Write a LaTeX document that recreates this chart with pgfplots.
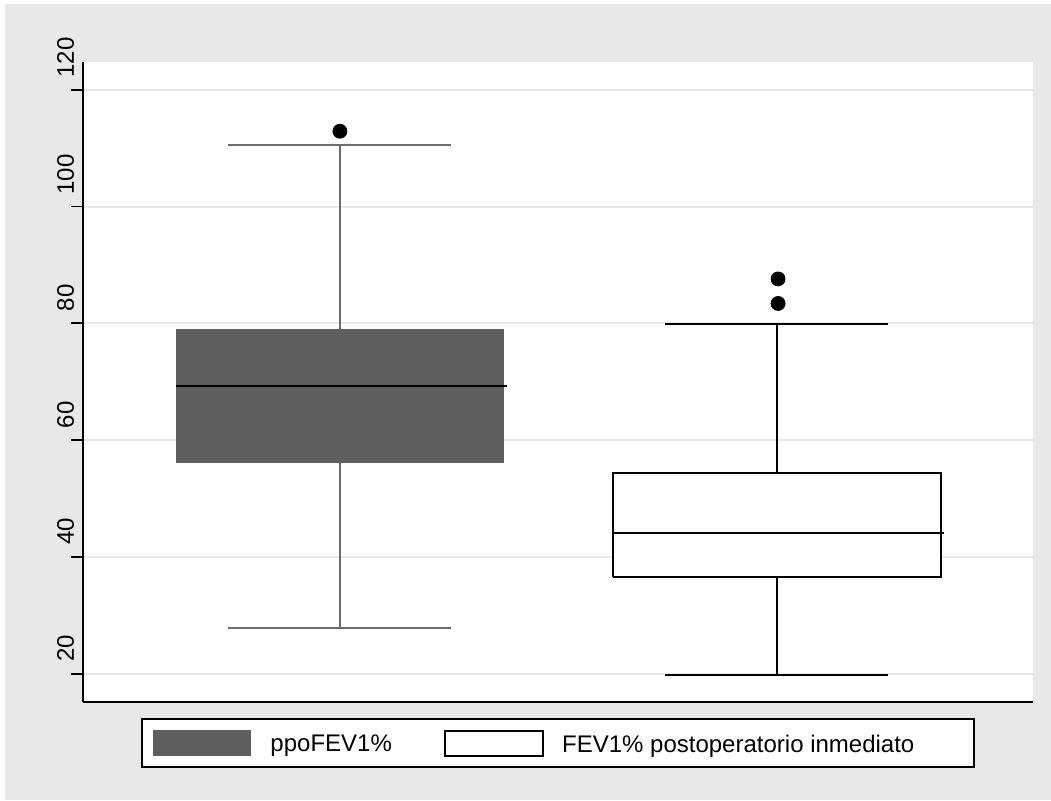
\documentclass[border=0pt]{standalone}
\usepackage{fontspec}
\setmainfont{Liberation Sans}
\usepackage{pgfplots}
\pgfplotsset{compat=1.18}
\definecolor{bggray}{RGB}{232,232,232}
\definecolor{gridgray}{RGB}{232,232,232}
\definecolor{boxgray}{RGB}{94,94,94}
\definecolor{whiskgray}{RGB}{108,108,108}

\begin{document}
\begin{tikzpicture}
% page frame and the gray panel behind the graph
\path[fill=white] (-41.5pt,-49pt) rectangle (484pt,351pt);
\fill[bggray] (-39pt,-49pt) rectangle (484pt,349pt);
\begin{axis}[
  scale only axis,
  width=475pt, height=320.15pt,
  xmin=0.412, xmax=2.5865,
  ymin=15.15, ymax=124.8,
  axis background/.style={fill=white},
  axis x line*=bottom, axis y line*=left,
  axis line style={line width=0.9pt, black},
  xtick=\empty,
  ytick={20,40,...,120},
  tick align=outside,
  major tick length=6pt,
  tick style={line width=0.9pt, black},
  ymajorgrids,
  grid style={gridgray, line width=1pt},
  /pgf/number format/assume math mode=true,
  yticklabel style={font=\fontsize{12}{14}\selectfont, xshift=1.5pt, yshift=2.5pt, rotate=90, anchor=base west},
  legend columns=2,
  legend cell align=left,
  legend style={
    at={(0.5,0)}, anchor=north, yshift=-8.2pt,
    draw=black, line width=1pt, fill=white,
    inner xsep=5.5pt, inner ysep=0pt,
    nodes={inner sep=0pt, text depth=0pt, font=\fontsize{12}{14}\selectfont},
  },
]
\addlegendimage{legend image code/.code={
  \path[draw=none, fill=none] (0pt,-12pt) rectangle (49pt,12pt);
  \fill[boxgray, draw=none] (0pt,-6.5pt) rectangle (49pt,6.5pt);}}
\addlegendentry{\hspace*{9.65pt}\makebox[86.65pt][l]{ppoFEV1\%}}
\addlegendimage{legend image code/.code={
  \path[draw=none, fill=none] (0pt,-12pt) rectangle (49pt,12pt);
  \draw[black, line width=1pt, fill=white] (0.5pt,-6.3pt) rectangle (49.5pt,6.3pt);}}
\addlegendentry{\hspace*{9.2pt}\makebox[200.3pt][l]{FEV1\% postoperatorio inmediato}}

% ppoFEV1%: whiskers 27.9 / 110.5, quartiles 56.2 / 79.0, median 69.3
\addplot[forget plot, whiskgray, line width=1pt] coordinates {(1,79.0) (1,110.5)};
\addplot[forget plot, whiskgray, line width=1pt] coordinates {(0.745,110.5) (1.255,110.5)};
\addplot[forget plot, whiskgray, line width=1pt] coordinates {(1,56.2) (1,27.9)};
\addplot[forget plot, whiskgray, line width=1pt] coordinates {(0.745,27.9) (1.255,27.9)};
\addplot[forget plot, fill=boxgray, draw=boxgray, line width=0.4pt]
  coordinates {(0.625,56.2) (1.375,56.2) (1.375,79.0) (0.625,79.0) (0.625,56.2)};
\addplot[forget plot, black, line width=1pt] coordinates {(0.625,69.3) (1.382,69.3)};
\addplot[forget plot, only marks, mark=*, mark size=3.5pt, black] coordinates {(1,112.9)};

% FEV1% postoperatorio inmediato: whiskers 19.8 / 79.8, quartiles 36.6 / 54.4, median 44.1
\addplot[forget plot, black, line width=1pt] coordinates {(2,54.4) (2,79.8)};
\addplot[forget plot, black, line width=1pt] coordinates {(1.745,79.8) (2.255,79.8)};
\addplot[forget plot, black, line width=1pt] coordinates {(2,36.6) (2,19.8)};
\addplot[forget plot, black, line width=1pt] coordinates {(1.745,19.8) (2.255,19.8)};
\addplot[forget plot, fill=white, draw=black, line width=1pt]
  coordinates {(1.625,36.6) (2.375,36.6) (2.375,54.4) (1.625,54.4) (1.625,36.6)};
\addplot[forget plot, black, line width=1pt] coordinates {(1.625,44.1) (2.382,44.1)};
\addplot[forget plot, only marks, mark=*, mark size=3.5pt, black] coordinates {(2.003,87.6) (2.003,83.4)};
\end{axis}
\end{tikzpicture}
\end{document}
